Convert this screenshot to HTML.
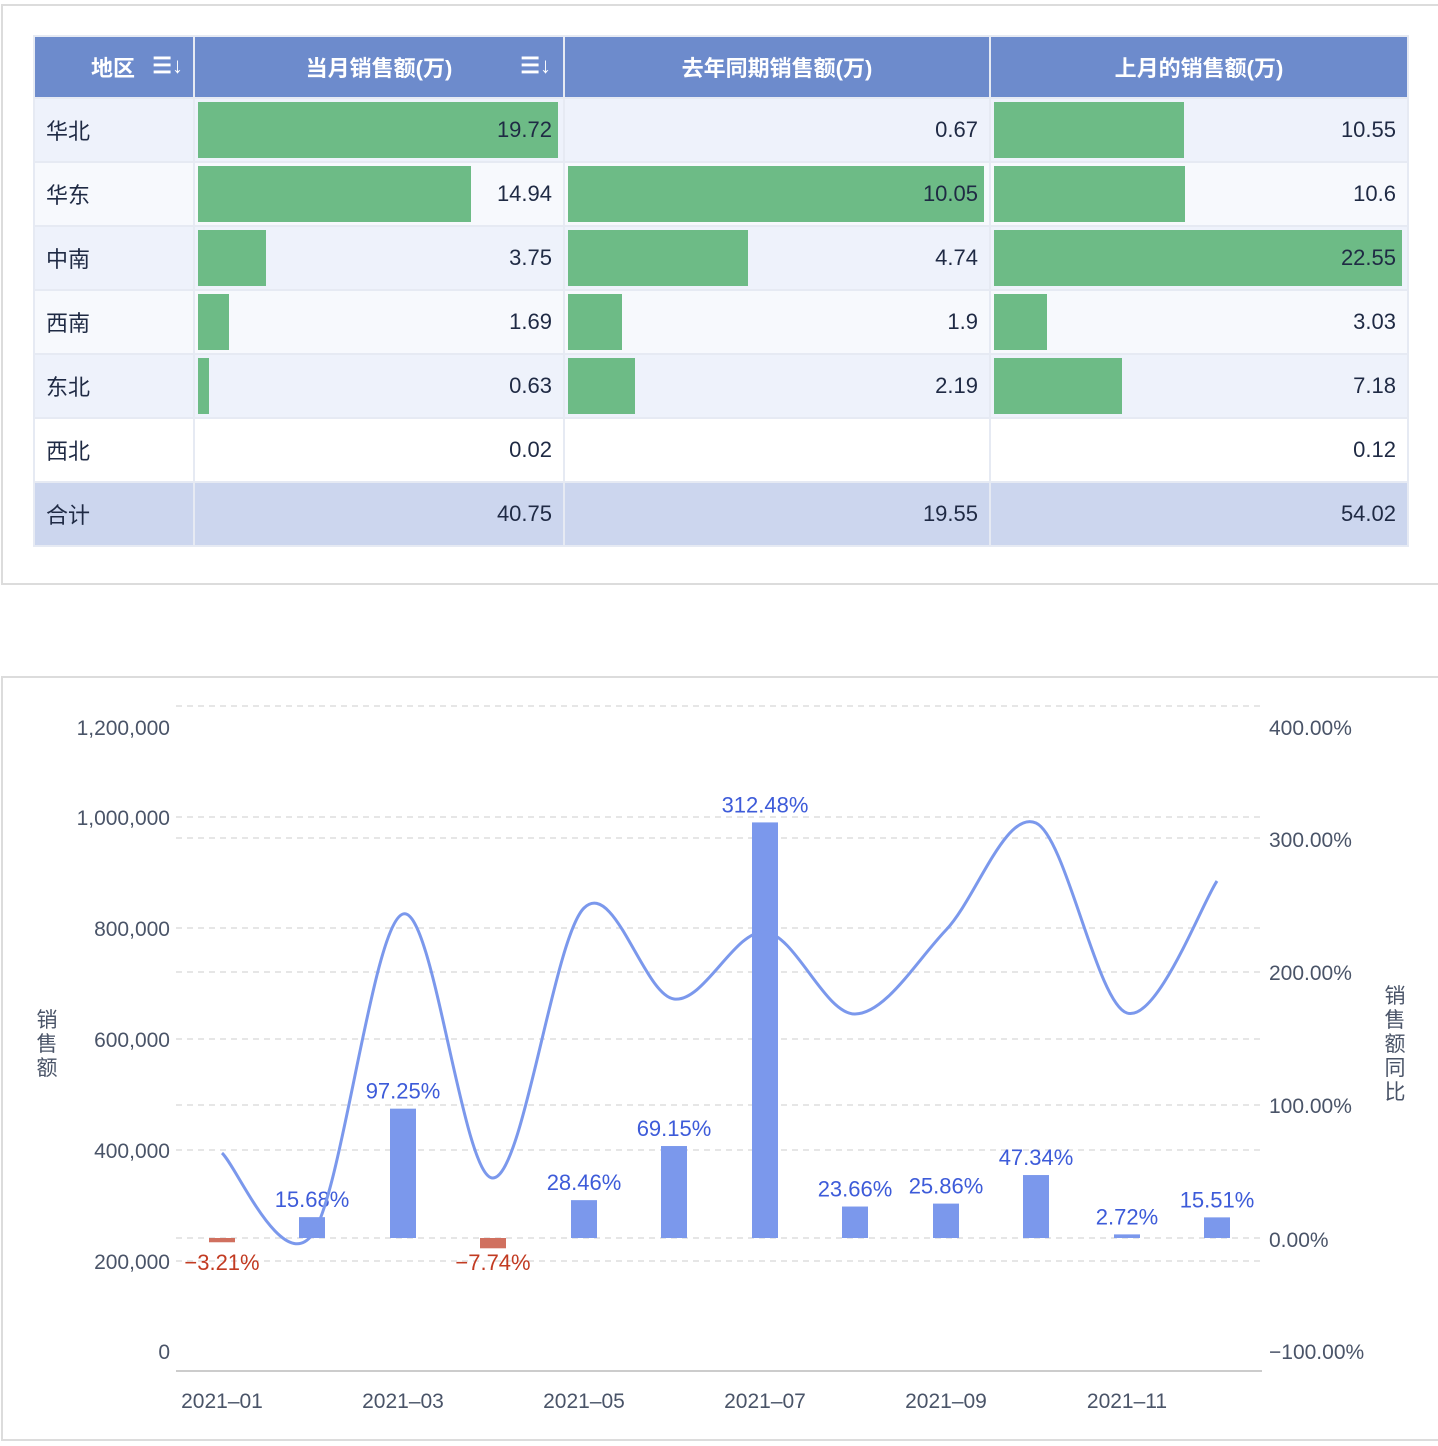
<!DOCTYPE html>
<html><head><meta charset="utf-8"><style>
body{margin:0;width:1438px;height:1446px;background:#fff;font-family:"Liberation Sans","Noto Sans CJK SC",sans-serif;position:relative;overflow:hidden}
.box{position:absolute;border:2px solid #dcdcdc;box-sizing:border-box}
table{position:absolute;left:33px;top:35px;border-collapse:collapse;table-layout:fixed}
td,th{border:2px solid #e6eaf3;height:60px;padding:0 11px;font-size:22px;color:#1f2a44;position:relative;box-sizing:border-box}
th{background:#6d8bcc;color:#fff;font-weight:bold;font-size:22px;border-color:#e6eaf3}
td.n{text-align:right}
.bar{position:absolute;left:3px;top:3px;bottom:3px;background:#6dbb86}
td span{position:relative}
.srt{position:absolute;right:10px;top:16px;font-size:22px}
</style></head><body>
<div class="box" style="left:1px;top:4px;width:1440px;height:581px"></div>
<table>
<colgroup><col style="width:160px"><col style="width:370px"><col style="width:426px"><col style="width:418px"></colgroup>
<tr style="height:62px"><th style="text-align:left;padding-left:56px">地区<span class="srt">☰↓</span></th><th>当月销售额(万)<span class="srt" style="right:12px">☰↓</span></th><th>去年同期销售额(万)</th><th>上月的销售额(万)</th></tr>
<tr style="background:#eef2fb;height:64px"><td>华北</td><td class="n"><div class="bar" style="width:360px"></div><span>19.72</span></td><td class="n">0.67</td><td class="n"><div class="bar" style="width:190px"></div><span>10.55</span></td></tr>
<tr style="background:#f7f9fd;height:64px"><td>华东</td><td class="n"><div class="bar" style="width:273px"></div><span>14.94</span></td><td class="n"><div class="bar" style="width:416px"></div><span>10.05</span></td><td class="n"><div class="bar" style="width:191px"></div><span>10.6</span></td></tr>
<tr style="background:#eef2fb;height:64px"><td>中南</td><td class="n"><div class="bar" style="width:68px"></div><span>3.75</span></td><td class="n"><div class="bar" style="width:180px"></div><span>4.74</span></td><td class="n"><div class="bar" style="width:408px"></div><span>22.55</span></td></tr>
<tr style="background:#f7f9fd;height:64px"><td>西南</td><td class="n"><div class="bar" style="width:31px"></div><span>1.69</span></td><td class="n"><div class="bar" style="width:54px"></div><span>1.9</span></td><td class="n"><div class="bar" style="width:53px"></div><span>3.03</span></td></tr>
<tr style="background:#eef2fb;height:64px"><td>东北</td><td class="n"><div class="bar" style="width:11px"></div><span>0.63</span></td><td class="n"><div class="bar" style="width:67px"></div><span>2.19</span></td><td class="n"><div class="bar" style="width:128px"></div><span>7.18</span></td></tr>
<tr style="background:#fff;height:64px"><td>西北</td><td class="n">0.02</td><td class="n"></td><td class="n">0.12</td></tr>
<tr style="background:#ccd6ee;height:64px"><td>合计</td><td class="n">40.75</td><td class="n">19.55</td><td class="n">54.02</td></tr>
</table>
<div class="box" style="left:1px;top:676px;width:1440px;height:765px"></div>
<svg id="c" width="1438" height="1446" style="position:absolute;left:0;top:0" font-family="Liberation Sans, Noto Sans CJK SC, sans-serif"></svg>
<script>
var s='',L=176,R=1262;
[706,817,838,928,972,1039,1105,1150,1238,1261].forEach(function(y){s+='<line x1="'+L+'" x2="'+R+'" y1="'+y+'" y2="'+y+'" stroke="#ddd" stroke-dasharray="6,5" stroke-width="1.5"/>'});
s+='<line x1="'+L+'" x2="'+R+'" y1="1371" y2="1371" stroke="#ccc" stroke-width="2"/>';
[['1,200,000',727],['1,000,000',817],['800,000',928],['600,000',1039],['400,000',1150],['200,000',1261],['0',1351]].forEach(function(a){s+='<text x="170" y="'+(a[1]+8)+'" text-anchor="end" font-size="21" fill="#4a5468">'+a[0]+'</text>'});
[['400.00%',727],['300.00%',839],['200.00%',972],['100.00%',1105],['0.00%',1239],['-100.00%',1351]].forEach(function(a){s+='<text x="1269" y="'+(a[1]+8)+'" font-size="21" fill="#4a5468">'+a[0].replace('-','−')+'</text>'});
var xs=[222,312,403,493,584,674,765,855,946,1036,1127,1217];
['2021-01','2021-03','2021-05','2021-07','2021-09','2021-11'].forEach(function(t,i){s+='<text x="'+xs[i*2]+'" y="1408" text-anchor="middle" font-size="21" fill="#4a5468">'+t.replace('-','–')+'</text>'});
'销售额'.split('').forEach(function(c,i){s+='<text x="47" y="'+(1027+i*24)+'" text-anchor="middle" font-size="21" fill="#4a5468">'+c+'</text>'});
'销售额同比'.split('').forEach(function(c,i){s+='<text x="1395" y="'+(1003+i*24)+'" text-anchor="middle" font-size="21" fill="#4a5468">'+c+'</text>'});
var p=[-3.21,15.68,97.25,-7.74,28.46,69.15,312.48,23.66,25.86,47.34,2.72,15.51];
p.forEach(function(v,i){var h=v*1.33,y=v>=0?1238-h:1238,x=xs[i]-13;
s+='<rect x="'+x+'" y="'+y+'" width="26" height="'+Math.max(Math.abs(h),1.5)+'" fill="'+(v>=0?'#7b98ec':'#d0705f')+'"/>';
var t=(v<0?'−'+(-v).toFixed(2):v.toFixed(2))+'%';
s+='<text x="'+xs[i]+'" y="'+(v>=0?y-10:1238+32)+'" text-anchor="middle" font-size="22" fill="'+(v>=0?'#3d5bd9':'#c23b22')+'">'+t+'</text>'});
var ys=[1153,1235,914,1178,908,999,932,1014,930,823,1013,881];
var d='M'+xs[0]+','+ys[0];
for(var i=0;i<11;i++){var p0=i?i-1:0,p3=i+2<12?i+2:11;
var c1x=xs[i]+(xs[i+1]-xs[p0])/6,c1y=ys[i]+(ys[i+1]-ys[p0])/6,c2x=xs[i+1]-(xs[p3]-xs[i])/6,c2y=ys[i+1]-(ys[p3]-ys[i])/6;
d+=' C'+c1x+','+c1y+' '+c2x+','+c2y+' '+xs[i+1]+','+ys[i+1];}
s+='<path d="'+d+'" fill="none" stroke="#7b98ec" stroke-width="3"/>';
document.getElementById('c').innerHTML=s;
</script>
</body></html>
